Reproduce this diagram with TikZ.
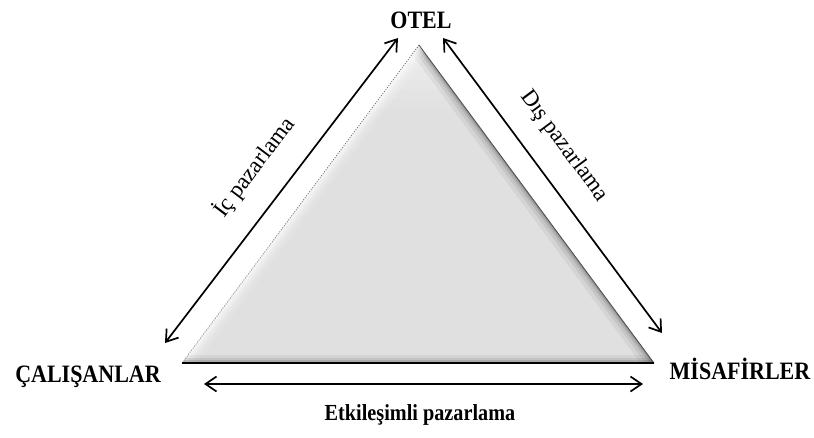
\documentclass[tikz,border=0pt]{standalone}
\usepackage{fontspec}
\setmainfont{Liberation Serif}
\usetikzlibrary{arrows.meta,calc}
\begin{document}
\begin{tikzpicture}[x=1pt,y=-1pt,
  corner/.style={font=\fontsize{25}{28}\selectfont\bfseries, inner sep=0pt, xscale=0.88},
  edgelabel/.style={font=\fontsize{23}{26}\selectfont, inner sep=0pt},
  bottomlabel/.style={font=\fontsize{23}{26}\selectfont\bfseries, inner sep=0pt, xscale=0.88},
  barb/.tip={Straight Barb[length=11pt,width=15pt,line width=1.7pt]},
  link/.style={line width=1.7pt, {barb}-{barb}},
  basefill/.style={fill={rgb,255:red,224;green,224;blue,224}}]
\useasboundingbox (0,0) rectangle (814,437);

% triangle corners
\coordinate (apex) at (419,45);
\coordinate (bl) at (182,363);
\coordinate (br) at (654,363);

% bevelled body
\begin{scope}
  \clip (apex) -- (bl) -- (br) -- cycle;
  \fill[basefill] (apex) -- (bl) -- (br) -- cycle;
  % shiny tip, fading downwards
  \foreach \f in {0.05,0.08,0.11,0.14,0.17,0.20}
    \fill[white, opacity=0.09] (apex) -- ($(apex)!\f!(bl)$) -- ($(apex)!\f!(br)$) -- cycle;
  % shaded right face
  \foreach \w/\o in {22/0.05,14/0.07,8/0.09,4/0.12,1.5/0.2}
    \draw[line width=\w pt, black, opacity=\o] (apex) -- (br);
  % lit left face
  \foreach \w/\o in {24/0.12,16/0.2,10/0.3,5/0.4}
    \draw[line width=\w pt, white, opacity=\o] (apex) -- (bl);
  % shaded base
  \foreach \w/\o in {16/0.05,10/0.08,6/0.12,3/0.18}
    \draw[line width=\w pt, black, opacity=\o] (bl) -- (br);
\end{scope}
\draw[line width=0.7pt, black!60, dash pattern=on 1pt off 1.5pt] (apex) -- (bl);
\draw[line width=0.7pt, black!70] (apex) -- (br);
\draw[line width=1.9pt] (bl) -- (br);

% arrow end points
\coordinate (l1) at (398,38);
\coordinate (l2) at (165,343);
\coordinate (r1) at (443,38);
\coordinate (r2) at (662,333);
\coordinate (b1) at (204,384);
\coordinate (b2) at (643,384);

\draw[link] (l1) -- (l2);
\draw[link] (r1) -- (r2);
\draw[link] (b1) -- (b2);

% labels
\node[corner] (otel) at (421,20) {OTEL};
\node[corner] (calisan) at (88,377) {ÇALIŞANLAR};
\node[corner] (misafir) at (740,369) {MİSAFİRLER};
\node[edgelabel, rotate=53] (ic) at (254,167) {İç pazarlama};
\node[edgelabel, rotate=-53.5] (dis) at (564,146) {Dış pazarlama};
\node[bottomlabel] (etk) at (420,415) {Etkileşimli pazarlama};
\end{tikzpicture}
\end{document}
